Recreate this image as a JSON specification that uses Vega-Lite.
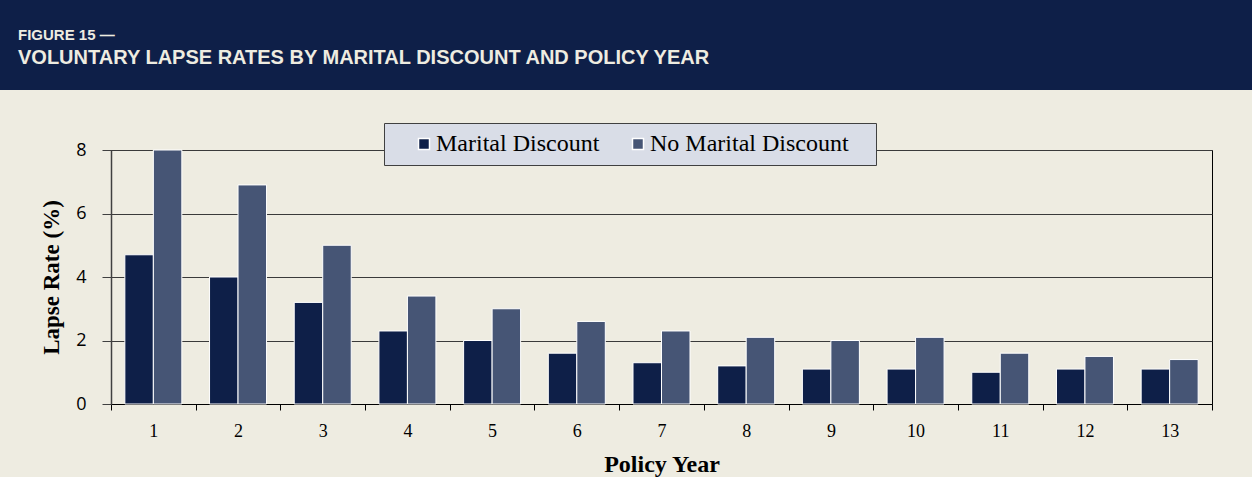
{
  "$schema": "https://vega.github.io/schema/vega-lite/v6.json",
  "background": "#EEECE1",
  "padding": 0,
  "spacing": 50,
  "config": {"view": {"stroke": null}},
  "vconcat": [
    {
      "width": 1252,
      "height": 90,
      "data": {"values": [{"section": "header"}]},
      "mark": {"type": "rect", "color": "#0E1F48"},
      "encoding": {},
      "view": {"fill": "#0E1F48", "stroke": null},
      "title": {
        "text": "FIGURE 15 —",
        "subtitle": "VOLUNTARY LAPSE RATES BY MARITAL DISCOUNT AND POLICY YEAR",
        "orient": "bottom",
        "anchor": "start",
        "frame": "group",
        "offset": -62,
        "dx": 18,
        "font": "Liberation Sans",
        "fontSize": 15,
        "fontWeight": "bold",
        "color": "#EEECE1",
        "subtitleFont": "Liberation Sans",
        "subtitleFontSize": 20,
        "subtitleFontWeight": "bold",
        "subtitleColor": "#EEECE1",
        "subtitlePadding": 5
      }
    },
    {
      "spacing": 0,
      "hconcat": [
        {
          "width": 1,
          "height": 1,
          "data": {"values": []},
          "mark": {"type": "point", "opacity": 0},
          "encoding": {}
        },
        {
          "width": 1101,
          "height": 254,
          "data": {
            "values": [
              {"year": 1, "group": "Marital Discount", "rate": 4.7},
              {"year": 1, "group": "No Marital Discount", "rate": 8.0},
              {"year": 2, "group": "Marital Discount", "rate": 4.0},
              {"year": 2, "group": "No Marital Discount", "rate": 6.9},
              {"year": 3, "group": "Marital Discount", "rate": 3.2},
              {"year": 3, "group": "No Marital Discount", "rate": 5.0},
              {"year": 4, "group": "Marital Discount", "rate": 2.3},
              {"year": 4, "group": "No Marital Discount", "rate": 3.4},
              {"year": 5, "group": "Marital Discount", "rate": 2.0},
              {"year": 5, "group": "No Marital Discount", "rate": 3.0},
              {"year": 6, "group": "Marital Discount", "rate": 1.6},
              {"year": 6, "group": "No Marital Discount", "rate": 2.6},
              {"year": 7, "group": "Marital Discount", "rate": 1.3},
              {"year": 7, "group": "No Marital Discount", "rate": 2.3},
              {"year": 8, "group": "Marital Discount", "rate": 1.2},
              {"year": 8, "group": "No Marital Discount", "rate": 2.1},
              {"year": 9, "group": "Marital Discount", "rate": 1.1},
              {"year": 9, "group": "No Marital Discount", "rate": 2.0},
              {"year": 10, "group": "Marital Discount", "rate": 1.1},
              {"year": 10, "group": "No Marital Discount", "rate": 2.1},
              {"year": 11, "group": "Marital Discount", "rate": 1.0},
              {"year": 11, "group": "No Marital Discount", "rate": 1.6},
              {"year": 12, "group": "Marital Discount", "rate": 1.1},
              {"year": 12, "group": "No Marital Discount", "rate": 1.5},
              {"year": 13, "group": "Marital Discount", "rate": 1.1},
              {"year": 13, "group": "No Marital Discount", "rate": 1.4}
            ]
          },
          "mark": {"type": "bar", "stroke": "#FFFFFF", "strokeWidth": 1},
          "encoding": {
            "x": {
              "field": "year",
              "type": "ordinal",
              "scale": {"paddingInner": 0, "paddingOuter": 0},
              "axis": {
                "title": "Policy Year",
                "titleFont": "Liberation Serif",
                "titleFontSize": 24,
                "titleFontWeight": "bold",
                "titleColor": "#000000",
                "titlePadding": 12,
                "labelAngle": 0,
                "labelFont": "Liberation Serif",
                "labelFontSize": 18,
                "labelColor": "#000000",
                "labelPadding": 12,
                "tickSize": 6,
                "tickBand": "extent",
                "tickColor": "#000000",
                "domainColor": "#000000"
              }
            },
            "xOffset": {
              "field": "group",
              "sort": ["Marital Discount", "No Marital Discount"],
              "scale": {"paddingInner": 0, "paddingOuter": 0.486}
            },
            "y": {
              "field": "rate",
              "type": "quantitative",
              "scale": {"domain": [0, 8]},
              "axis": {
                "values": [0, 2, 4, 6, 8],
                "title": "Lapse Rate (%)",
                "titleFont": "Liberation Serif",
                "titleFontSize": 23,
                "titleFontWeight": "bold",
                "titleColor": "#000000",
                "titleX": -53,
                "titleY": 127,
                "titleBaseline": "alphabetic",
                "labelFont": "Open Sans",
                "labelFontSize": 18,
                "labelColor": "#000000",
                "labelPadding": 16,
                "tickSize": 9,
                "tickColor": "#404040",
                "domainColor": "#404040",
                "domainWidth": 1.5,
                "grid": true,
                "gridColor": "#3A3A3A",
                "gridWidth": 1
              }
            },
            "color": {
              "field": "group",
              "type": "nominal",
              "scale": {
                "domain": ["Marital Discount", "No Marital Discount"],
                "range": ["#0E1F48", "#465575"]
              },
              "legend": {
                "orient": "none",
                "legendX": 384,
                "legendY": 123,
                "direction": "horizontal",
                "title": ".",
                "titleOrient": "right",
                "titleColor": "#D9DDE7",
                "titleFontSize": 10,
                "titlePadding": 15,
                "fillColor": "#D9DDE7",
                "strokeColor": "#404040",
                "padding": 9,
                "symbolType": "square",
                "symbolSize": 121,
                "symbolStrokeColor": "#FFFFFF",
                "symbolStrokeWidth": 1.5,
                "symbolOffset": 19,
                "labelOffset": 0,
                "columnPadding": 7,
                "labelFont": "Liberation Serif",
                "labelFontSize": 24,
                "labelColor": "#000000",
                "labelLimit": 400
              }
            }
          },
          "view": {"stroke": "#000000", "strokeWidth": 1},
          "title": {"text": ".", "orient": "left", "color": "#EEECE1", "fontSize": 8, "offset": 30}
        }
      ]
    }
  ]
}
